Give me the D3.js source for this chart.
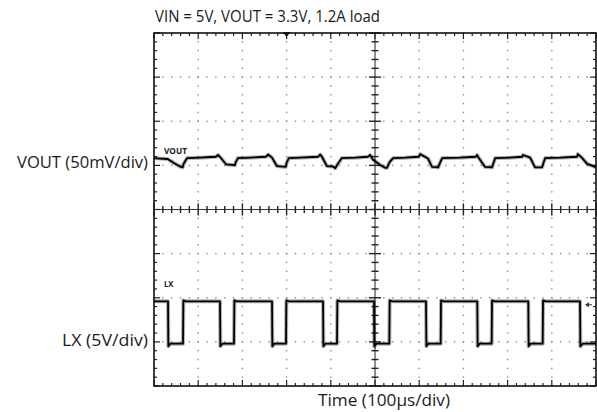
<!DOCTYPE html>
<html><head><meta charset="utf-8">
<script src="https://cdn.jsdelivr.net/npm/d3@7/dist/d3.min.js"></script>
<style>
html,body{margin:0;padding:0;background:#fff;}
svg{display:block;}
text{font-family:"Open Sans","Noto Sans",sans-serif;fill:#1a1a1a;}
</style></head>
<body>
<svg id="chart" width="597" height="412"></svg>
<script>
// ---------- data ----------
const titleText = "VIN = 5V, VOUT = 3.3V, 1.2A load";
const xAxisLabel = "Time (100\u00b5s/div)";
const channelLabels = ["VOUT (50mV/div)", "LX (5V/div)"];
const traceTags = ["VOUT", "LX"];
const timeDivUs = 100;            // 100 µs per division
const timeDivisions = 10;
const voltDivisions = 8;
const voutScaleMv = 50;           // mV per division
const lxScaleV = 5;               // V per division
const voutZeroDiv = 0.975;        // screen position of VOUT reference (divisions from centre)
const lxZeroDiv = -3.04;          // screen position of LX ground (divisions from centre)

// VOUT ripple: time (µs), deviation (mV)
const voutTime = [0,14,31,45,61,65,67,75,104,140,145,149,163,183,185,190,217,253,258,267,278,298,300,305,330,371,376,380,391,405,410,416,425,455,484,489,495,511,523,527,533,541,568,599,602,620,629,643,647,652,692,728,731,733,749,765,768,772,805,833,835,851,862,878,881,885,919,957,959,968,980,998,1000];
const voutMv   = [9.5,9,8.5,4,-0.5,-1,3,9.5,10,11,13,11,2.5,1.5,5,9.5,10,11,13.5,10,0.5,-0.5,4,9.5,10,11,13.5,11,0.5,0,-2,3,9.5,10,11,13,8,2,-1.5,-1.5,5,9.5,10,11,14,9,-0.5,-1,4,9.5,10,11,13,11,-0.5,-1,4,9.5,10,11,13,10,-1,-1,4,9.5,10,11,14,10,3,-0.5,-0.5];

// LX switch node: time (µs), volts
const lxTime = [0,31.7,32.5,37,65.6,66.4,72,149.3,150.1,155,181,181.8,187,267,267.8,272,298.6,299.4,305,382.4,383.2,388,414,414.8,420,497.7,498.5,503,532.4,533.2,538,615.4,616.2,621,648.6,649.4,655,731.4,732.2,737,764,764.8,770,846.8,847.6,852,879.4,880.2,886,963.8,964.6,970,1000];
const lxVolts = [4.8,4.8,-0.3,0,0,4.9,4.8,4.8,-0.3,0,0,4.9,4.8,4.8,-0.3,0,0,4.9,4.8,4.8,-0.3,0,0,4.9,4.8,4.8,-0.3,0,0,4.9,4.8,4.8,-0.3,0,0,4.9,4.8,4.8,-0.3,0,0,4.9,4.8,4.8,-0.3,0,0,4.9,4.8,4.8,-0.3,0,0];

// ---------- layout ----------
const svg = d3.select("#chart");
const L = 154, R = 596, T = 33, B = 386;
const x = d3.scaleLinear().domain([0, timeDivisions*timeDivUs]).range([L, R]);
const y = d3.scaleLinear().domain([-voltDivisions/2, voltDivisions/2]).range([B, T]);

const g = svg.append("g");

// dotted grid
const minorX = d3.range(0, timeDivisions*timeDivUs + 0.01, timeDivUs/5);
const minorY = d3.range(-voltDivisions/2, voltDivisions/2 + 0.001, 0.2);
const majorX = d3.range(1, timeDivisions).map(d => d*timeDivUs).filter(d => d !== 500);
const majorY = d3.range(-3, 4).filter(d => d !== 0);
const dots = [];
majorX.forEach(t => minorY.forEach(v => dots.push([x(t), y(v)])));
majorY.forEach(v => minorX.forEach(t => dots.push([x(t), y(v)])));
g.selectAll("rect.dot").data(dots).join("rect").attr("class","dot")
  .attr("x", d => d[0]-0.7).attr("y", d => d[1]-0.7).attr("width",1.4).attr("height",1.4)
  .attr("fill","#8a8a8a");

// centre axes
g.append("line").attr("x1", x(500)).attr("x2", x(500)).attr("y1", T).attr("y2", B).attr("stroke","#333").attr("stroke-width",1.1);
g.append("line").attr("x1", L).attr("x2", R).attr("y1", y(0)).attr("y2", y(0)).attr("stroke","#333").attr("stroke-width",1.1);
minorX.forEach((t,i) => {
  const len = (i % 5 === 0) ? 6 : 3.5;
  g.append("line").attr("x1", x(t)).attr("x2", x(t)).attr("y1", y(0)-len).attr("y2", y(0)+len).attr("stroke","#222").attr("stroke-width",1.4);
});
minorY.forEach((v,i) => {
  const len = (i % 5 === 0) ? 6 : 3.5;
  g.append("line").attr("y1", y(v)).attr("y2", y(v)).attr("x1", x(500)-len).attr("x2", x(500)+len).attr("stroke","#222").attr("stroke-width",1.4);
});

// border ticks
minorX.forEach((t,i) => {
  const len = (i % 5 === 0) ? 6 : 3;
  g.append("line").attr("x1", x(t)).attr("x2", x(t)).attr("y1", T).attr("y2", T+len).attr("stroke","#222").attr("stroke-width",1.2);
  g.append("line").attr("x1", x(t)).attr("x2", x(t)).attr("y1", B).attr("y2", B-len).attr("stroke","#222").attr("stroke-width",1.2);
});
minorY.forEach((v,i) => {
  const len = (i % 5 === 0) ? 6 : 3;
  g.append("line").attr("y1", y(v)).attr("y2", y(v)).attr("x1", L).attr("x2", L+len).attr("stroke","#222").attr("stroke-width",1.2);
  g.append("line").attr("y1", y(v)).attr("y2", y(v)).attr("x1", R).attr("x2", R-len).attr("stroke","#222").attr("stroke-width",1.2);
});

// frame
g.append("rect").attr("x", L).attr("y", T).attr("width", R-L).attr("height", B-T)
  .attr("fill","none").attr("stroke","#111").attr("stroke-width",1.6);

// markers
g.append("path").attr("d", `M${x(300)-4},${T-1}L${x(300)+4},${T-1}L${x(300)},${T+4}Z`).attr("fill","#111");
const ay = y(lxZeroDiv + 4.4/lxScaleV);
g.append("path").attr("d", `M${R-11},${ay}L${R-7},${ay-2.5}L${R-7},${ay+2.5}Z`).attr("fill","#333");
g.append("line").attr("x1", R-7).attr("x2", R-4).attr("y1", ay).attr("y2", ay).attr("stroke","#333");

// traces
const voutData = voutTime.map((t,i) => [t, voutZeroDiv + voutMv[i]/voutScaleMv]);
const lxData = lxTime.map((t,i) => [t, lxZeroDiv + lxVolts[i]/lxScaleV]);
const line = d3.line().x(d => x(d[0])).y(d => y(d[1]));
[voutData, lxData].forEach(data => {
  g.append("path").datum(data).attr("d", line).attr("fill","none")
    .attr("stroke","#000").attr("stroke-opacity",0.3).attr("stroke-width",4).attr("stroke-linejoin","round");
  g.append("path").datum(data).attr("d", line).attr("fill","none")
    .attr("stroke","#000").attr("stroke-width",1.8).attr("stroke-linejoin","round");
});

// trace tags
svg.append("text").attr("x",164).attr("y",153.5).attr("font-size",8.5).attr("font-weight","bold").attr("textLength",23).attr("lengthAdjust","spacingAndGlyphs").attr("fill","#222").text(traceTags[0]);
svg.append("text").attr("x",164).attr("y",287).attr("font-size",8.5).attr("font-weight","bold").attr("textLength",9.5).attr("lengthAdjust","spacingAndGlyphs").attr("fill","#222").text(traceTags[1]);

// labels
svg.append("text").attr("x",155).attr("y",22).attr("font-size",15.5).attr("textLength",225).attr("lengthAdjust","spacingAndGlyphs").text(titleText);
svg.append("text").attr("x",17).attr("y",168).attr("font-size",16.5).attr("textLength",131).attr("lengthAdjust","spacingAndGlyphs").text(channelLabels[0]);
svg.append("text").attr("x",62).attr("y",345.5).attr("font-size",16.5).attr("textLength",86).attr("lengthAdjust","spacingAndGlyphs").text(channelLabels[1]);
svg.append("text").attr("x",318).attr("y",406).attr("font-size",16.5).attr("textLength",132).attr("lengthAdjust","spacingAndGlyphs").text(xAxisLabel);
</script>
</body></html>
